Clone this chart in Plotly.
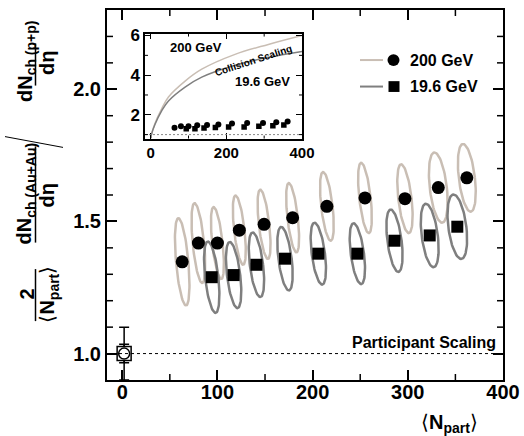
import numpy as np
import plotly.graph_objects as go

# ---------------- data ----------------
npart_200 = [63, 80, 100, 123, 149, 179, 215, 255, 297, 332, 362]
ratio_200 = [1.347, 1.418, 1.418, 1.467, 1.489, 1.514, 1.557, 1.589, 1.586, 1.628, 1.665]
err_y_200 = [0.165, 0.151, 0.136, 0.131, 0.131, 0.131, 0.130, 0.133, 0.130, 0.133, 0.128]
err_x_200 = [6.5, 6.0, 5.5, 5.5, 5.5, 5.5, 6.0, 6.0, 7.0, 9.0, 8.5]

npart_19 = [94, 117, 141, 171, 206, 247, 286, 323, 352]
ratio_19 = [1.289, 1.297, 1.336, 1.359, 1.378, 1.378, 1.427, 1.447, 1.480]
err_y_19 = [0.135, 0.125, 0.122, 0.120, 0.117, 0.115, 0.118, 0.120, 0.122]
err_x_19 = [7.0, 7.0, 7.0, 7.0, 7.0, 7.0, 7.5, 8.5, 9.5]
TILT = -4.0  # x-shift of the ellipse top (correlated errors)

pp_x = [2]
pp_y = [1.0]
pp_err_sys = [0.1]
pp_err_stat = [0.035]

coll_x = [0.6, 2, 11, 29, 47, 91, 135, 223, 311, 400]
coll_200 = [0.8, 1.0, 1.55, 2.3, 2.9, 3.7, 4.3, 5.05, 5.55, 6.0]
coll_19 = [0.8, 1.0, 1.5, 2.2, 2.7, 3.4, 3.9, 4.5, 4.9, 5.2]

main_xticks = [0, 100, 200, 300, 400]
main_xminor = [50, 150, 250, 350]
main_yticks = [1.0, 1.5, 2.0]
main_yminor = [1.1, 1.2, 1.3, 1.4, 1.6, 1.7, 1.8, 1.9, 2.1, 2.2]
inset_xticks = [0, 200, 400]
inset_xminor = [100, 300]
inset_yticks = [2, 4, 6]
inset_yminor = [1, 3, 5]

C200 = "#c9beb4"
C19 = "#7f7f7f"
FONT = "Liberation Sans"

# ---------------- geometry helpers (pixel -> paper) ----------------
L, R, T, B = 107, 21, 3, 56
W, H = 524, 436
PW, PH = W - L - R, H - T - B


def px(x):
    return (x - L) / PW


def py(y):
    return (H - B - y) / PH


def ellipses(cx, cy, ex, ey):
    t = np.linspace(0, 2 * np.pi, 80)
    xs, ys = [], []
    for a, b, sx, sy in zip(cx, cy, ex, ey):
        xs += [float(v) for v in (a + sx * np.cos(t) + TILT * np.sin(t))] + [None]
        ys += [float(v) for v in (b + sy * np.sin(t))] + [None]
    return xs, ys


fig = go.Figure()

ex2, ey2 = ellipses(npart_200, ratio_200, err_x_200, err_y_200)
fig.add_trace(go.Scatter(x=ex2, y=ey2, mode="lines", line=dict(color=C200, width=2.5),
                         hoverinfo="skip", showlegend=False))
ex1, ey1 = ellipses(npart_19, ratio_19, err_x_19, err_y_19)
fig.add_trace(go.Scatter(x=ex1, y=ey1, mode="lines", line=dict(color=C19, width=2.5),
                         hoverinfo="skip", showlegend=False))
fig.add_trace(go.Scatter(x=npart_200, y=ratio_200, mode="markers",
                         marker=dict(symbol="circle", size=13, color="black"), showlegend=False))
fig.add_trace(go.Scatter(x=npart_19, y=ratio_19, mode="markers",
                         marker=dict(symbol="square", size=12, color="black"), showlegend=False))

# p+p reference point
fig.add_trace(go.Scatter(x=pp_x, y=pp_y, mode="markers", marker=dict(size=1, color="rgba(0,0,0,0)"),
                         error_y=dict(type="data", array=pp_err_stat, color="black", thickness=1.5, width=5),
                         showlegend=False))
fig.add_trace(go.Scatter(x=pp_x, y=pp_y, mode="markers", marker=dict(size=1, color="rgba(0,0,0,0)"),
                         error_y=dict(type="data", array=pp_err_sys, color="black", thickness=1.5, width=5),
                         showlegend=False))
fig.add_trace(go.Scatter(x=pp_x, y=pp_y, mode="markers",
                         marker=dict(symbol="square", size=14, color="white", line=dict(color="black", width=1.5)),
                         showlegend=False))
fig.add_trace(go.Scatter(x=pp_x, y=pp_y, mode="markers",
                         marker=dict(symbol="circle", size=11, color="white", line=dict(color="black", width=1.5)),
                         showlegend=False))

# inset
fig.add_trace(go.Scatter(x=coll_x, y=coll_200, mode="lines", line=dict(color=C200, width=1.5, shape="spline"),
                         xaxis="x2", yaxis="y2", showlegend=False))
fig.add_trace(go.Scatter(x=coll_x, y=coll_19, mode="lines", line=dict(color=C19, width=1.5, shape="spline"),
                         xaxis="x2", yaxis="y2", showlegend=False))
fig.add_trace(go.Scatter(x=npart_200, y=ratio_200, mode="markers", marker=dict(symbol="circle", size=6, color="black"),
                         xaxis="x2", yaxis="y2", showlegend=False))
fig.add_trace(go.Scatter(x=npart_19, y=ratio_19, mode="markers", marker=dict(symbol="square", size=5.5, color="black"),
                         xaxis="x2", yaxis="y2", showlegend=False))

shapes = [
    dict(type="line", xref="paper", yref="paper", x0=px(360), x1=px(383), y0=py(54), y1=py(54),
         line=dict(color=C200, width=2)),
    dict(type="line", xref="paper", yref="paper", x0=px(360), x1=px(383), y0=py(81), y1=py(81),
         line=dict(color=C19, width=2)),
    dict(type="circle", xref="paper", yref="paper", x0=px(387.5), x1=px(399.5), y0=py(48), y1=py(60),
         fillcolor="black", line=dict(color="black", width=0)),
    dict(type="rect", xref="paper", yref="paper", x0=px(388.5), x1=px(399.5), y0=py(75.5), y1=py(86.5),
         fillcolor="black", line=dict(color="black", width=0)),
    dict(type="line", xref="paper", yref="y", x0=0, x1=1, y0=1, y1=1,
         line=dict(color="black", width=1, dash="3px,3px")),
    dict(type="line", xref="x2", yref="y2", x0=-15, x1=400, y0=1, y1=1,
         line=dict(color="#888888", width=1, dash="2px,2px")),
    # y-title fraction bars and slash
    dict(type="line", xref="paper", yref="paper", x0=px(35.5), x1=px(35.5), y0=py(267), y1=py(320),
         line=dict(color="black", width=1.5)),
    dict(type="line", xref="paper", yref="paper", x0=px(35.5), x1=px(35.5), y0=py(142), y1=py(240),
         line=dict(color="black", width=1.5)),
    dict(type="line", xref="paper", yref="paper", x0=px(35.5), x1=px(35.5), y0=py(37), y1=py(80),
         line=dict(color="black", width=1.5)),
    dict(type="line", xref="paper", yref="paper", x0=px(5), x1=px(63), y0=py(132), y1=py(143),
         line=dict(color="black", width=1)),
]


# minor ticks as pixel-sized shapes anchored on the axis values
def xminor(vals, xref, yref, ln, width):
    out = []
    for v in vals:
        for anchor, sgn in ((0, 1), (1, -1)):
            out.append(dict(type="line", xref=xref, yref=yref, x0=v, x1=v, ysizemode="pixel", yanchor=anchor,
                            y0=0, y1=sgn * ln, line=dict(color="black", width=width)))
    return out


def yminor(vals, xref, yref, ln, width):
    out = []
    for v in vals:
        for anchor, sgn in ((0, 1), (1, -1)):
            out.append(dict(type="line", xref=xref, yref=yref, y0=v, y1=v, xsizemode="pixel", xanchor=anchor,
                            x0=0, x1=sgn * ln, line=dict(color="black", width=width)))
    return out


shapes += xminor(main_xminor, "x", "y domain", 6, 1.5)
shapes += yminor(main_yminor, "x domain", "y", 6, 1.5)
shapes += xminor(inset_xminor, "x2", "y2 domain", 3, 1)
shapes += yminor(inset_yminor, "x2 domain", "y2", 3, 1)


def ann(x, y, text, size, angle=0, xanchor="center", yanchor="middle", ref="paper"):
    return dict(x=x, y=y, xref=ref, yref=ref, text=text, showarrow=False, textangle=angle,
                xanchor=xanchor, yanchor=yanchor, font=dict(family=FONT, size=size, color="black"))


annotations = [
    ann(px(408), py(54), "<b>200 GeV</b>", 16, xanchor="left"),
    ann(px(408), py(81), "<b>19.6 GeV</b>", 16, xanchor="left"),
    ann(px(498), py(342), "<b>Participant Scaling</b>", 16, xanchor="right"),
    ann(px(196), py(41), "<b>200 GeV</b>", 13),
    ann(px(262), py(76), "<b>19.6 GeV</b>", 13),
    ann(px(253), py(54), "<b>Collision Scaling</b>", 10, angle=-18),
    ann(px(449), py(424), "⟨<b>N</b><sub><b>part</b></sub>⟩", 20),
    # y title
    ann(px(27), py(293), "<b>2</b>", 20, angle=-90),
    ann(px(49), py(293), "⟨<b>N</b><sub><b>part</b></sub>⟩", 20, angle=-90),
    ann(px(26), py(190), "<b>dN</b><sub><b>ch (Au+Au)</b></sub>", 20, angle=-90),
    ann(px(47), py(192), "<b>dη</b>", 20, angle=-90),
    ann(px(26), py(55), "<b>dN</b><sub><b>ch (p+p)</b></sub>", 20, angle=-90),
    ann(px(47), py(57), "<b>dη</b>", 20, angle=-90),
]

tickfont = dict(family=FONT, size=20, color="black")

fig.update_layout(
    width=W, height=H, margin=dict(l=L, r=R, t=T, b=B),
    paper_bgcolor="white", plot_bgcolor="white",
    showlegend=False, shapes=shapes, annotations=annotations,
    xaxis=dict(domain=[0, 1], range=[-16, 400], tickvals=main_xticks,
               ticktext=["<b>%d</b>" % v for v in main_xticks], ticks="inside",
               ticklen=10, tickwidth=1.5, tickcolor="black", showline=True, linewidth=2, linecolor="black",
               mirror="ticks", showgrid=False, zeroline=False, tickfont=tickfont, ticklabelstandoff=-7),
    yaxis=dict(domain=[0, 1], range=[0.9, 2.3], tickvals=main_yticks,
               ticktext=["<b>%.1f</b>" % v for v in main_yticks], ticks="inside",
               ticklen=10, tickwidth=1.5, tickcolor="black", showline=True, linewidth=2, linecolor="black",
               mirror="ticks", showgrid=False, zeroline=False, tickfont=tickfont),
    xaxis2=dict(domain=[px(145), px(302)], anchor="y2", range=[-15, 400], tickvals=inset_xticks,
                ticktext=["<b>%d</b>" % v for v in inset_xticks], ticks="inside",
                ticklen=6, tickwidth=1, tickcolor="black", showline=True, linewidth=1.5, linecolor="black",
                mirror="ticks", showgrid=False, zeroline=False,
                tickfont=dict(family=FONT, size=15, color="black")),
    yaxis2=dict(domain=[py(134), py(27)], anchor="x2", range=[0.8, 6.1], tickvals=inset_yticks,
                ticktext=["<b>%d</b>" % v for v in inset_yticks], ticks="inside",
                ticklen=6, tickwidth=1, tickcolor="black", showline=True, linewidth=1.5, linecolor="black",
                mirror="ticks", showgrid=False, zeroline=False,
                tickfont=dict(family=FONT, size=17, color="black")),
)

fig.write_html("out.html")
